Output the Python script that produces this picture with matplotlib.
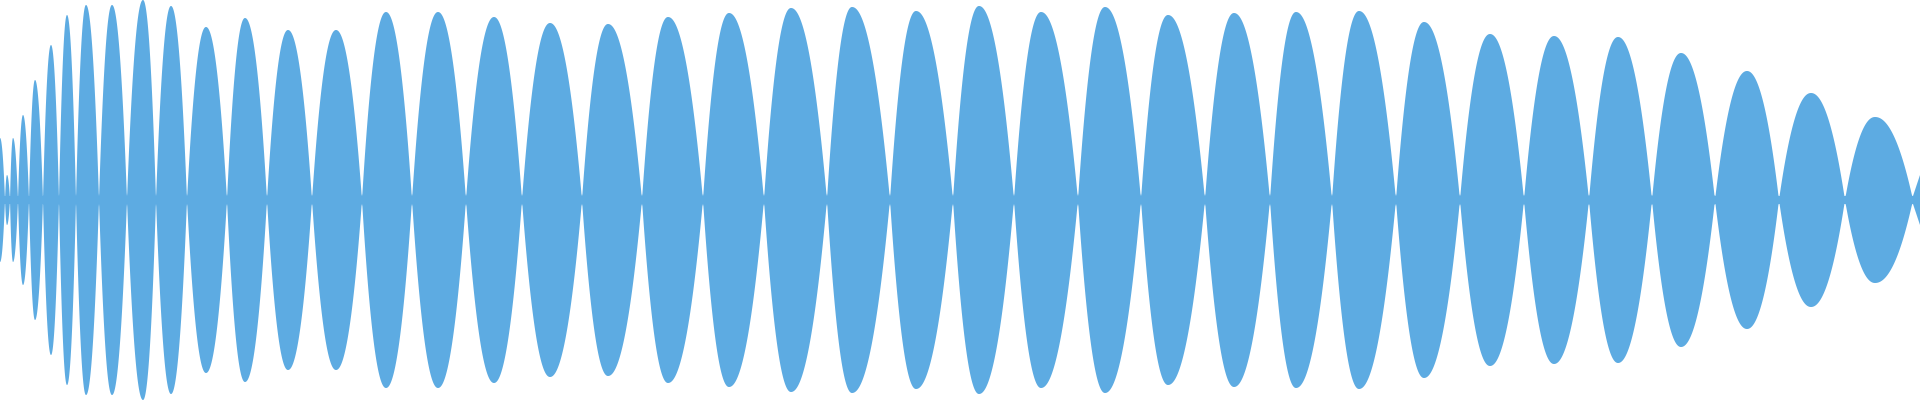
import numpy as np
import matplotlib
matplotlib.use("Agg")
import matplotlib.pyplot as plt

nodes = [-4, 5, 10, 18, 29, 43, 59, 76, 99, 127, 156, 187, 227, 267, 312, 362, 412, 466,
         522, 582, 642, 703, 764, 827, 890, 953, 1014, 1078, 1141, 1205, 1270, 1332,
         1396, 1460, 1524, 1589, 1652, 1715, 1779, 1845, 1913]
peak_x = [0, 7, 13, 23, 35, 51, 67, 86, 112, 143, 171, 206, 245, 288, 336, 386, 438, 494,
          550, 608, 668, 729, 791, 852, 916, 979, 1041, 1105, 1168, 1234, 1296, 1359,
          1424, 1490, 1554, 1618, 1681, 1747, 1811, 1875]
peak_amp = [62, 25, 62, 85, 120, 155, 185, 195, 195, 200, 194, 173, 182, 170, 170, 188, 188,
            183, 177, 176, 183, 187, 192, 193, 189, 194, 188, 193, 185, 187, 188, 189,
            178, 166, 164, 163, 147, 129, 107, 83]
baseline = 4

def lobe(t):
    return np.clip(1 - t ** 2.1, 0, 1)

xs, ys = [], []
for i in range(len(peak_x)):
    n0, p, n1, a = nodes[i], peak_x[i], nodes[i + 1], peak_amp[i]
    left = np.linspace(n0, p, 60, endpoint=False)
    right = np.linspace(p, n1, 60, endpoint=False)
    xs.extend(left); ys.extend(a * lobe((p - left) / max(p - n0, 1e-9)))
    xs.extend(right); ys.extend(a * lobe((right - p) / (n1 - p)))
xs.append(nodes[-1]); ys.append(0)
xs = np.array(xs); ys = np.maximum(np.array(ys), baseline)
tail = np.linspace(nodes[-1], 1925, 10)
xs = np.concatenate([xs, tail]); ys = np.concatenate([ys, baseline + (tail - nodes[-1]) * 3])

fig = plt.figure(figsize=(19.2, 4), dpi=100)
ax = fig.add_axes([0, 0, 1, 1])
ax.fill_between(xs, -ys, ys, color="#5DABE2", linewidth=0)
ax.set_xlim(0, 1920)
ax.set_ylim(-200, 200)
ax.axis("off")
fig.savefig("out.png", dpi=100)
